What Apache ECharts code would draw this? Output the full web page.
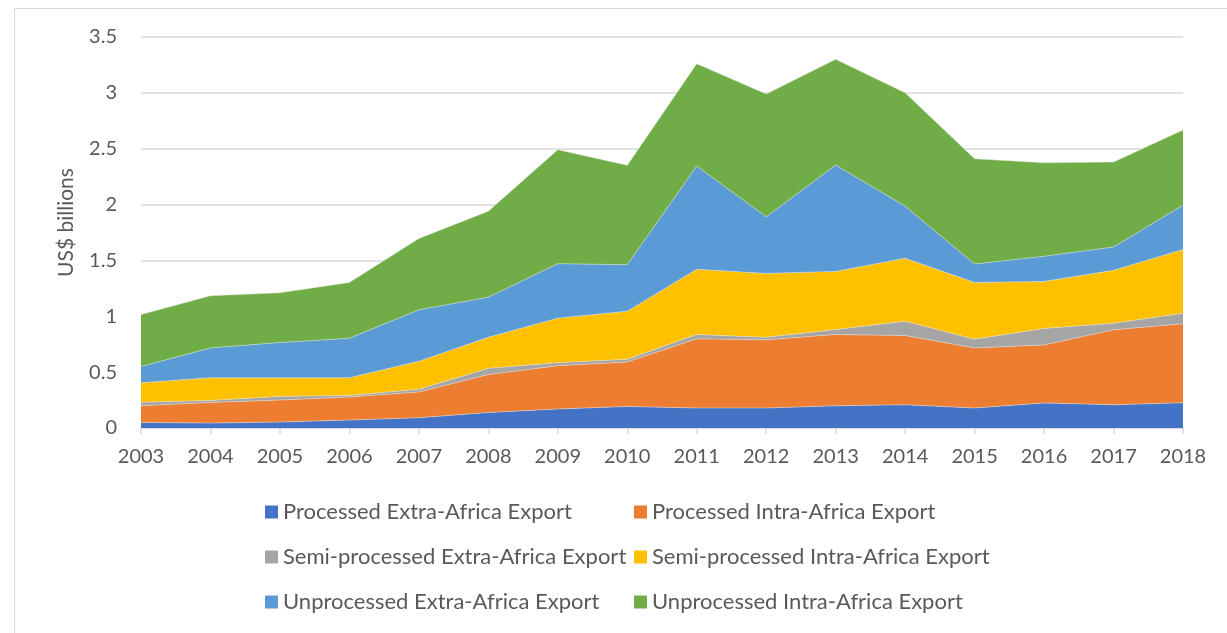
<!DOCTYPE html>
<html>
<head>
<meta charset="utf-8">
<script src="https://cdn.jsdelivr.net/npm/echarts@6/dist/echarts.min.js"></script>
<style>
  html, body { margin: 0; padding: 0; background: #fff; }
  #frame { position: absolute; left: 14px; top: 8px; width: 1240px; height: 640px; border: 1px solid #d9d9d9; box-sizing: border-box; }
  #main { position: absolute; left: 0; top: 0; width: 1227px; height: 633px; }
</style>
</head>
<body>
<div id="frame"></div>
<div id="main"></div>
<script>
// years on the x axis
var years = ['2003','2004','2005','2006','2007','2008','2009','2010','2011','2012','2013','2014','2015','2016','2017','2018'];

// US$ billions
var processedExtra     = [0.05, 0.044, 0.053, 0.071, 0.092, 0.139, 0.17, 0.193, 0.179, 0.179, 0.199, 0.208, 0.179, 0.224, 0.208, 0.226];
var processedIntra     = [0.15, 0.185, 0.197, 0.206, 0.23, 0.339, 0.388, 0.398, 0.619, 0.61, 0.638, 0.62, 0.538, 0.52, 0.671, 0.707];
var semiExtra          = [0.03, 0.018, 0.033, 0.015, 0.024, 0.056, 0.027, 0.024, 0.039, 0.023, 0.044, 0.128, 0.078, 0.147, 0.059, 0.095];
var semiIntra          = [0.175, 0.203, 0.167, 0.158, 0.251, 0.278, 0.398, 0.431, 0.583, 0.572, 0.521, 0.563, 0.508, 0.421, 0.473, 0.569];
var unprocessedExtra   = [0.145, 0.267, 0.315, 0.353, 0.461, 0.359, 0.488, 0.416, 0.925, 0.506, 0.952, 0.467, 0.165, 0.225, 0.209, 0.398];
var unprocessedIntra   = [0.465, 0.467, 0.446, 0.5, 0.638, 0.77, 1.02, 0.889, 0.915, 1.10, 0.946, 1.014, 0.942, 0.837, 0.761, 0.673];

var names = [
  'Processed Extra-Africa Export',
  'Processed Intra-Africa Export',
  'Semi-processed Extra-Africa Export',
  'Semi-processed Intra-Africa Export',
  'Unprocessed Extra-Africa Export',
  'Unprocessed Intra-Africa Export'
];
var values = [processedExtra, processedIntra, semiExtra, semiIntra, unprocessedExtra, unprocessedIntra];
var colors = ['#4472c4', '#ed7d31', '#a5a5a5', '#ffc000', '#5b9bd5', '#70ad47'];

var font = 'Lato, "Open Sans", sans-serif';
var txt = '#595959';

var series = names.map(function (n, i) {
  return {
    name: n,
    type: 'line',
    stack: 'total',
    data: values[i],
    symbol: 'none',
    lineStyle: { width: 0.6, color: 'rgba(230,230,230,0.8)' },
    areaStyle: { color: colors[i], opacity: 1 },
    itemStyle: { color: colors[i] }
  };
});

// two columns of three, like the excel legend
function legendCol(left, items) {
  return {
    orient: 'vertical',
    left: left,
    top: 501,
    padding: 0,
    itemWidth: 13,
    itemHeight: 13,
    itemGap: 23,
    icon: 'rect',
    selectedMode: false,
    data: items,
    textStyle: { fontFamily: font, fontSize: 22, lineHeight: 22, color: txt }
  };
}

var chart = echarts.init(document.getElementById('main'), null, { renderer: 'canvas' });
chart.setOption({
  animation: false,
  color: colors,
  grid: { left: 141, right: 44, top: 37, bottom: 205 },
  legend: [
    legendCol(265, [names[0], names[2], names[4]]),
    legendCol(634, [names[1], names[3], names[5]])
  ],
  xAxis: {
    type: 'category',
    data: years,
    boundaryGap: false,
    axisLine: { lineStyle: { color: '#d9d9d9', width: 1.5 } },
    axisTick: { show: true, length: 6, lineStyle: { color: '#d9d9d9', width: 1.5 } },
    axisLabel: { fontFamily: font, fontSize: 20, color: txt, margin: 19 },
    splitLine: { show: false }
  },
  yAxis: {
    type: 'value',
    min: 0,
    max: 3.5,
    interval: 0.5,
    name: 'US$ billions',
    nameLocation: 'middle',
    nameGap: 64,
    nameTextStyle: { fontFamily: font, fontSize: 21, color: txt, padding: [0, 0, 0, 20] },
    axisLine: { show: false },
    axisTick: { show: false },
    axisLabel: { fontFamily: font, fontSize: 20, color: txt, margin: 24 },
    splitLine: { lineStyle: { color: '#d9d9d9', width: 1.5 } }
  },
  series: series
});
</script>
</body>
</html>
